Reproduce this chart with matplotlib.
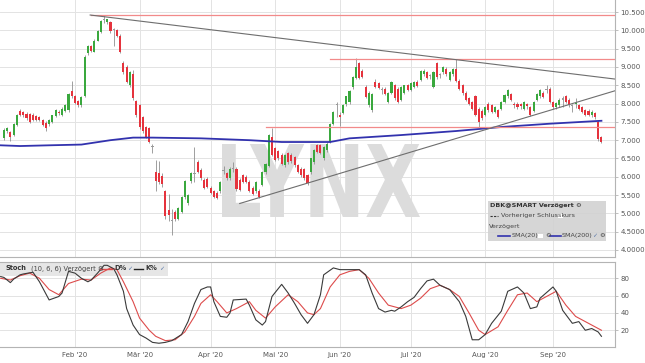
import numpy as np
import matplotlib.pyplot as plt
from matplotlib.patches import PathPatch, Rectangle
from matplotlib.textpath import TextPath
from matplotlib.font_manager import FontProperties
from matplotlib.transforms import Affine2D
from matplotlib.lines import Line2D

# daily candles (open, high, low, close), one row per trading day
jan = [(7.05, 7.32, 7.00, 7.28), (7.26, 7.36, 7.20, 7.32), (7.22, 7.24, 6.98, 7.08), (7.15, 7.48, 7.12, 7.45),
       (7.42, 7.72, 7.38, 7.68), (7.80, 7.86, 7.66, 7.70), (7.76, 7.80, 7.64, 7.68), (7.72, 7.76, 7.56, 7.60),
       (7.72, 7.75, 7.46, 7.50), (7.70, 7.74, 7.52, 7.56), (7.66, 7.70, 7.52, 7.56), (7.62, 7.66, 7.52, 7.55),
       (7.55, 7.58, 7.40, 7.42), (7.48, 7.52, 7.26, 7.32), (7.44, 7.58, 7.40, 7.55), (7.50, 7.70, 7.46, 7.68),
       (7.66, 7.86, 7.62, 7.82), (7.78, 7.82, 7.70, 7.74), (7.70, 7.90, 7.66, 7.86), (7.80, 7.98, 7.76, 7.95),
       (7.82, 8.30, 7.78, 8.27), (8.34, 8.62, 8.14, 8.20)]
feb = [(8.20, 8.24, 7.98, 8.02), (8.06, 8.10, 7.92, 7.96), (7.96, 8.22, 7.92, 8.18), (8.22, 9.32, 8.18, 9.28),
       (9.38, 9.60, 9.34, 9.56), (9.56, 9.60, 9.40, 9.44), (9.42, 9.76, 9.40, 9.72), (9.72, 10.02, 9.70, 9.98),
       (9.96, 10.28, 9.94, 10.25), (10.28, 10.41, 10.20, 10.30), (10.22, 10.32, 10.18, 10.30), (10.22, 10.26, 9.94, 9.98),
       (10.00, 10.06, 9.58, 9.98), (10.00, 10.04, 9.82, 9.86), (9.86, 9.90, 9.38, 9.42), (9.12, 9.16, 8.80, 8.86),
       (9.00, 9.06, 8.56, 8.60), (8.50, 8.90, 8.46, 8.86), (8.80, 8.92, 8.10, 8.14), (8.06, 8.10, 7.64, 7.68)]
mar = [(7.95, 8.00, 7.30, 7.36), (7.62, 7.66, 7.20, 7.24), (7.36, 7.40, 7.06, 7.10), (7.32, 7.36, 6.92, 6.96),
       (6.80, 6.90, 6.66, 6.78), (6.12, 6.45, 5.60, 5.88), (6.10, 6.42, 5.80, 5.86), (6.02, 6.10, 5.72, 5.80),
       (5.60, 5.64, 4.86, 4.92), (5.10, 5.52, 4.80, 4.96), (4.78, 5.12, 4.42, 4.77), (5.05, 5.10, 4.80, 4.85),
       (4.85, 5.18, 4.82, 5.15), (5.05, 5.48, 5.00, 5.45), (5.45, 5.92, 5.40, 5.88), (5.28, 5.52, 5.24, 5.50),
       (5.88, 6.12, 5.84, 6.10), (6.07, 6.82, 5.86, 6.06), (6.40, 6.46, 6.10, 6.14), (6.18, 6.24, 5.92, 5.96),
       (5.90, 5.96, 5.66, 5.70), (5.95, 6.00, 5.68, 5.72)]
apr = [(5.70, 5.74, 5.52, 5.56), (5.60, 5.64, 5.42, 5.46), (5.56, 5.60, 5.38, 5.42), (5.60, 5.88, 5.56, 5.85),
       (6.15, 6.30, 6.08, 6.16), (6.10, 6.14, 5.92, 5.96), (5.96, 6.26, 5.92, 6.22), (6.21, 6.40, 6.14, 6.22),
       (6.22, 6.28, 5.62, 5.66), (5.90, 5.96, 5.60, 5.64), (6.04, 6.08, 5.82, 5.86), (6.00, 6.04, 5.82, 5.86),
       (5.86, 5.90, 5.58, 5.62), (5.70, 5.74, 5.50, 5.54), (5.60, 5.88, 5.56, 5.85), (5.62, 5.66, 5.42, 5.46),
       (5.78, 6.16, 5.74, 6.14), (6.12, 6.38, 6.08, 6.36), (6.30, 7.18, 6.26, 7.15), (7.10, 7.32, 6.56, 6.60)]
may = [(6.78, 6.82, 6.42, 6.46), (6.70, 6.74, 6.46, 6.50), (6.60, 6.64, 6.32, 6.36), (6.32, 6.62, 6.28, 6.60),
       (6.64, 6.68, 6.36, 6.40), (6.60, 6.64, 6.38, 6.42), (6.55, 6.58, 6.28, 6.32), (6.32, 6.36, 6.10, 6.14),
       (6.22, 6.26, 6.00, 6.06), (6.20, 6.24, 5.92, 5.96), (6.05, 6.08, 5.78, 5.82), (6.12, 6.52, 6.08, 6.50),
       (6.40, 6.76, 6.36, 6.72), (6.86, 6.90, 6.64, 6.68), (6.86, 6.90, 6.62, 6.65), (6.50, 6.84, 6.46, 6.80),
       (6.72, 6.94, 6.68, 6.90), (6.95, 7.48, 6.92, 7.45), (7.45, 7.80, 7.42, 7.77), (7.96, 8.04, 7.62, 7.98)]
jun = [(7.70, 7.76, 7.38, 7.64), (7.75, 7.98, 7.72, 7.95), (7.98, 8.22, 7.94, 8.20), (8.05, 8.38, 8.00, 8.35),
       (8.45, 8.76, 8.40, 8.72), (8.70, 9.24, 8.66, 9.00), (9.10, 9.14, 8.66, 8.70), (8.90, 8.94, 8.70, 8.73),
       (8.45, 8.50, 8.14, 8.18), (7.95, 8.34, 7.92, 8.30), (7.82, 8.28, 7.78, 8.25), (8.60, 8.66, 8.42, 8.45),
       (8.55, 8.58, 8.40, 8.42), (8.38, 8.44, 8.26, 8.36), (8.40, 8.44, 8.24, 8.27), (8.05, 8.32, 8.02, 8.30),
       (8.30, 8.62, 8.26, 8.60), (8.50, 8.54, 8.10, 8.14), (8.40, 8.44, 8.02, 8.05), (8.10, 8.48, 8.06, 8.45),
       (8.30, 8.52, 8.26, 8.50), (8.50, 8.54, 8.34, 8.37)]
jul = [(8.37, 8.58, 8.34, 8.55), (8.45, 8.62, 8.42, 8.60), (8.60, 8.64, 8.44, 8.47), (8.65, 8.92, 8.62, 8.90),
       (8.80, 8.94, 8.76, 8.90), (8.85, 8.88, 8.66, 8.70), (8.76, 8.82, 8.66, 8.74), (8.45, 8.88, 8.42, 8.85),
       (9.10, 9.14, 8.68, 8.72), (8.78, 8.84, 8.70, 8.75), (8.85, 9.04, 8.82, 9.00), (8.95, 9.00, 8.76, 8.80),
       (8.65, 8.88, 8.62, 8.85), (8.80, 8.98, 8.76, 8.95), (8.95, 9.22, 8.58, 8.62), (8.62, 8.66, 8.36, 8.40),
       (8.50, 8.54, 8.24, 8.28), (8.30, 8.34, 8.06, 8.10), (8.15, 8.18, 7.96, 8.00), (8.05, 8.08, 7.82, 7.86),
       (8.20, 8.24, 7.66, 7.70), (7.86, 7.90, 7.36, 7.50), (7.80, 7.84, 7.56, 7.60)]
aug = [(7.70, 7.94, 7.66, 7.90), (8.00, 8.04, 7.78, 7.82), (7.95, 7.98, 7.74, 7.77), (7.77, 7.94, 7.74, 7.90),
       (7.82, 7.86, 7.60, 7.64), (7.86, 8.08, 7.82, 8.05), (8.05, 8.26, 8.02, 8.23), (8.20, 8.40, 8.16, 8.36),
       (8.25, 8.28, 8.06, 8.10), (7.98, 8.04, 7.88, 7.95), (8.00, 8.04, 7.86, 7.90), (7.98, 8.02, 7.84, 7.94),
       (7.86, 8.08, 7.82, 8.05), (7.98, 8.02, 7.86, 7.94), (7.90, 7.94, 7.66, 7.70), (7.80, 8.08, 7.76, 8.05),
       (8.10, 8.30, 8.06, 8.27), (8.20, 8.40, 8.16, 8.36), (8.30, 8.34, 8.14, 8.18), (8.37, 8.50, 8.28, 8.34),
       (8.40, 8.44, 8.02, 8.05)]
sep = [(8.05, 8.08, 7.86, 7.90), (7.90, 8.05, 7.86, 8.02), (7.95, 8.14, 7.92, 8.10), (8.11, 8.22, 7.92, 8.08),
       (8.20, 8.24, 8.02, 8.05), (8.10, 8.14, 7.92, 7.95), (7.93, 8.00, 7.78, 7.90), (7.98, 8.14, 7.88, 8.02),
       (7.95, 7.98, 7.82, 7.85), (7.90, 7.94, 7.74, 7.78), (7.82, 7.86, 7.66, 7.70), (7.80, 7.84, 7.66, 7.70),
       (7.68, 7.82, 7.64, 7.78), (7.75, 7.78, 7.58, 7.62), (7.50, 7.54, 6.98, 7.02), (7.08, 7.12, 6.92, 6.95)]

month_labels = ["Feb '20", "Mär '20", "Apr '20", "Mai '20", "Jun '20", "Jul '20", "Aug '20", "Sep '20"]
month_start = [22, 42, 64, 84, 104, 126, 149, 170]  # trading-day index of first session

price_ticks = [4.0, 4.5, 5.0, 5.5, 6.0, 6.5, 7.0, 7.5, 8.0, 8.5, 9.0, 9.5, 10.0, 10.5]
price_labels = ["4.0000", "4.5000", "5.000", "5.500", "6.000", "6.500", "7.000", "7.500",
                "8.000", "8.500", "9.000", "9.500", "10.000", "10.500"]

# SMA(200)
sma_day = [-1, 5, 14, 24, 33, 40, 46, 61, 76, 86, 93, 101, 107, 123, 140, 154, 169, 185]
sma_val = [6.86, 6.84, 6.86, 6.88, 7.00, 7.07, 7.07, 7.05, 7.00, 6.95, 6.95, 6.95, 7.05, 7.14, 7.25, 7.36, 7.45, 7.53]

# horizontal levels (price, first day)
level_val = [10.42, 9.23, 7.35]
level_day = [27, 101, 81]

# trend lines (day, price)
down_day = [26.7, 189.2]
down_val = [10.42, 8.67]
up_day = [73, 189.2]
up_val = [5.27, 8.35]

# stochastic (10, 6, 6)
k_day = [-1, 0, 2, 3, 5, 6, 9, 11, 14, 17, 18, 20, 22, 24, 26, 27, 29, 31, 32, 34, 35, 37, 38, 40, 42, 44,
         46, 48, 50, 52, 55, 57, 59, 61, 63, 64, 65, 67, 69, 70, 71, 75, 76, 78, 80, 81, 83, 86, 88, 90, 92,
         94, 96, 98, 99, 102, 104, 107, 110, 112, 114, 116, 118, 120, 121, 123, 125, 127, 129, 131, 133,
         135, 138, 141, 143, 145, 147, 149, 151, 154, 156, 159, 161, 163, 165, 166, 170, 171, 173, 176,
         178, 180, 182, 184, 185]
k_val = [82, 81, 75, 79, 84, 85, 87, 76, 55, 59, 63, 88, 86, 80, 76, 78, 86, 95, 95, 91, 84, 65, 45, 26, 15, 11,
         6, 5, 6, 8, 15, 30, 51, 67, 70, 70, 53, 36, 35, 40, 55, 56, 49, 32, 26, 30, 59, 73, 63, 51, 38,
         28, 38, 61, 84, 92, 90, 90, 90, 84, 63, 45, 41, 43, 42, 47, 53, 58, 68, 77, 79,
         72, 67, 53, 36, 9, 9, 15, 28, 42, 65, 70, 63, 45, 47, 57, 70, 65, 43, 28,
         30, 20, 22, 18, 13]
d_day = [-1, 2, 5, 8, 11, 14, 17, 20, 24, 27, 30, 33, 35, 37, 40, 42, 45, 47, 50, 53, 56, 59, 61, 64, 66,
         69, 72, 76, 78, 81, 84, 88, 91, 94, 96, 98, 101, 104, 107, 110, 113, 116, 119, 123, 126, 129,
         132, 135, 138, 141, 144, 147, 149, 153, 156, 159, 162, 165, 168, 171, 174, 177, 180, 185]
d_val = [80, 78, 83, 86, 80, 67, 61, 74, 79, 78, 86, 92, 90, 76, 53, 34, 20, 13, 8, 9, 18, 36, 51, 61, 53,
         40, 45, 53, 43, 34, 47, 61, 53, 40, 38, 45, 70, 84, 88, 90, 80, 63, 49, 45, 49, 57,
         68, 72, 67, 59, 40, 20, 15, 24, 43, 61, 63, 53, 59, 65, 49, 36, 30, 20]

GREEN = "#3aa83e"
RED = "#e5333d"
GRID = "#e3e3e3"
FRAME = "#b4b4b4"
TXT = "#555555"

W, H = 645, 363
fig = plt.figure(figsize=(W / 100, H / 100), dpi=100)
fig.patch.set_facecolor("white")


def fx(px):
    return px / W


def fy(py):
    return 1 - py / H


ax = fig.add_axes([0, fy(257.3), fx(615), 257.3 / H])
sx = fig.add_axes([0, fy(346.7), fx(615), (346.7 - 261.5) / H])

ohlc = np.array(jan + feb + mar + apr + may + jun + jul + aug + sep)
o, h, l, c = ohlc.T
idx = np.arange(len(ohlc))
xmin, xmax = -1.21, 189.2

# ---- price panel
ax.vlines(idx, l, h, color="#8f8f8f", lw=0.6, zorder=3)
body = c - o
cols = np.where(np.abs(body) < 0.03, "#9a9a9a", np.where(body >= 0, GREEN, RED))
body = np.where(np.abs(body) < 0.03, 0.03, body)
ax.bar(idx, body, bottom=o, width=0.65, color=cols, linewidth=0, zorder=4)

ax.plot(sma_day, sma_val, color="#3232ae", lw=1.3, zorder=5)
for lv, ld in zip(level_val, level_day):
    ax.plot([ld, xmax], [lv, lv], color="#f28a8a", lw=0.9, zorder=5)
ax.plot(down_day, down_val, color="#6e6e6e", lw=0.8, zorder=5)
ax.plot(up_day, up_val, color="#6e6e6e", lw=0.8, zorder=5)

# watermark
tp = TextPath((0, 0), "LYNX", size=1, prop=FontProperties(family="DejaVu Sans", weight="bold"))
ext = tp.get_extents()
x0, y0, x1, y1 = 222 / 615, 1 - 217 / 257.3, 420 / 615, 1 - 144 / 257.3
tr = Affine2D().translate(-ext.x0, -ext.y0).scale((x1 - x0) / ext.width, (y1 - y0) / ext.height).translate(x0, y0)
ax.add_patch(PathPatch(tr.transform_path(tp), transform=ax.transAxes, fc="#dcdcdc", ec="none", zorder=1))

ax.set_xlim(xmin, xmax)
ax.set_ylim(3.80, 10.83)
ax.yaxis.tick_right()
ax.set_yticks(price_ticks, price_labels)
ax.set_xticks(month_start)
ax.tick_params(axis="x", length=0, labelbottom=False)
ax.tick_params(axis="y", length=2.5, width=0.6, color=FRAME, labelsize=5, labelcolor=TXT, pad=1.5)
ax.grid(True, color=GRID, lw=0.7, zorder=0)
ax.set_axisbelow(True)
for s in ["top", "left"]:
    ax.spines[s].set_visible(False)
for s in ["right", "bottom"]:
    ax.spines[s].set_color(FRAME)
    ax.spines[s].set_linewidth(0.8)

# ---- stochastic panel
sx.plot(d_day, d_val, color="#dd4b4b", lw=0.8, zorder=3)
sx.plot(k_day, k_val, color="#3a3a3a", lw=0.8, zorder=4)
sx.set_xlim(xmin, xmax)
sx.set_ylim(1.0, 99.4)
sx.yaxis.tick_right()
sx.set_yticks([20, 40, 60, 80])
sx.set_xticks(month_start, month_labels)
sx.tick_params(axis="x", length=0, labelsize=5, labelcolor=TXT, pad=4)
sx.tick_params(axis="y", length=2.5, width=0.6, color=FRAME, labelsize=5, labelcolor=TXT, pad=1.5)
sx.grid(True, color=GRID, lw=0.7, zorder=0)
sx.set_axisbelow(True)
sx.spines["left"].set_visible(False)
for s in ["right", "bottom", "top"]:
    sx.spines[s].set_color(FRAME)
    sx.spines[s].set_linewidth(0.8)

# stochastic header
sx.add_patch(Rectangle((0, (346.7 - 276) / 85.2), 168 / 615, 14 / 85.2, transform=sx.transAxes,
                       fc="#e6e6e6", ec="none", zorder=1))
hy = fy(268.5)
fig.text(fx(5), hy, "Stoch", fontsize=4.8, weight="bold", color="#333333", va="center")
fig.text(fx(31), hy, "(10, 6, 6) Verzögert ⚙", fontsize=4.8, color="#444444", va="center")
fig.add_artist(Line2D([fx(100), fx(112)], [hy, hy], color="#dd4b4b", lw=1.0, transform=fig.transFigure))
fig.text(fx(114), hy, "D%", fontsize=4.8, weight="bold", color="#333333", va="center")
fig.text(fx(127), hy, "✓", fontsize=4.5, color="#5a78a8", va="center")
fig.add_artist(Line2D([fx(134), fx(143)], [hy, hy], color="#222222", lw=1.0, transform=fig.transFigure))
fig.text(fx(145), hy, "K%", fontsize=4.8, weight="bold", color="#333333", va="center")
fig.text(fx(159), hy, "✓", fontsize=4.5, color="#5a78a8", va="center")

# price legend box
fig.add_artist(Rectangle((fx(488), fy(241)), 118 / W, 40 / H, transform=fig.transFigure,
                         fc="#d2d2d2", ec="none", alpha=0.9))
fig.text(fx(490), fy(205.7), "DBK@SMART Verzögert ⚙", fontsize=4.6, weight="bold", color="#333333", va="center")
fig.add_artist(Line2D([fx(490), fx(498)], [fy(215.7)] * 2, color="#333333", lw=0.8, ls=(0, (2, 1.2)),
                      transform=fig.transFigure))
fig.text(fx(501), fy(215.7), "Vorheriger Schlusskurs", fontsize=4.6, color="#444444", va="center")
fig.add_artist(Rectangle((fx(558), fy(218)), 4.5 / W, 4.5 / H, transform=fig.transFigure, fc="white", ec="none"))
fig.text(fx(489), fy(226.7), "Verzögert", fontsize=4.6, color="#444444", va="center")
ly = fy(235.7)
fig.add_artist(Line2D([fx(498), fx(510)], [ly, ly], color="#3232ae", lw=1.2, transform=fig.transFigure))
fig.text(fx(512), ly, "SMA(20)", fontsize=4.6, color="#444444", va="center")
fig.add_artist(Rectangle((fx(538), fy(238)), 4.5 / W, 4.5 / H, transform=fig.transFigure, fc="white", ec="none"))
fig.text(fx(545), ly, "⚙", fontsize=4.6, color="#444444", va="center")
fig.add_artist(Line2D([fx(550), fx(561)], [ly, ly], color="#3232ae", lw=1.2, transform=fig.transFigure))
fig.text(fx(562), ly, "SMA(200)", fontsize=4.6, color="#444444", va="center")
fig.text(fx(592), ly, "✓", fontsize=4.4, color="#5a78a8", va="center")
fig.text(fx(599), ly, "⚙", fontsize=4.6, color="#444444", va="center")

fig.savefig("out.png", dpi=100)
